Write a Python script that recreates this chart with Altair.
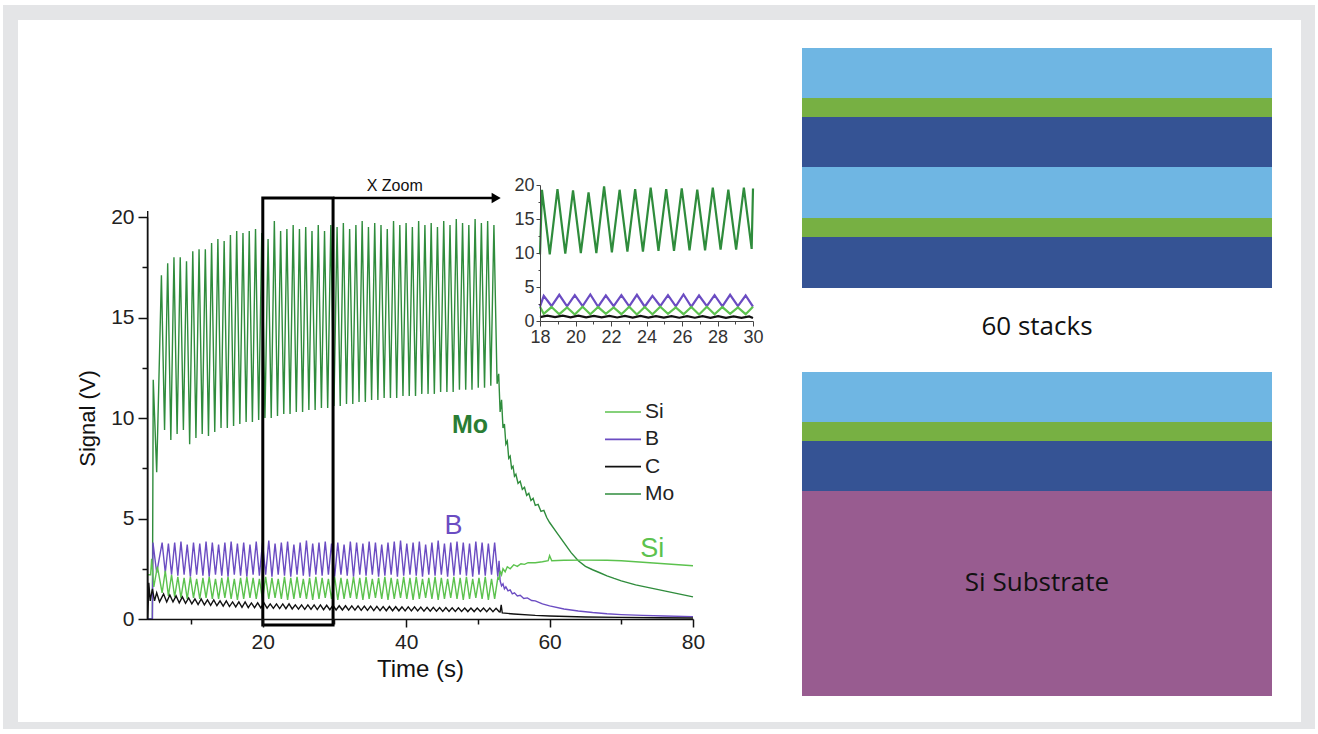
import altair as alt
import pandas as pd

# ---------------- data ----------------
series_names = ["Si", "B", "C", "Mo"]
series_colors = ["#5cc24e", "#6b4cc2", "#111111", "#2f8c3c"]
series_widths = [1.4, 1.4, 1.5, 1.5]

cycle_start = 5.86      # s, first full Mo maximum
cycle_period = 0.875    # s, one bilayer

mo_peak = [17.1, 17.7, 18.0, 18.0, 17.8, 18.3, 18.4, 18.4, 18.7,
           18.9, 18.8, 19.1, 19.3, 19.2, 19.3, 19.4, 19.2, 18.9,
           19.8, 19.3, 19.4, 19.6, 19.4, 19.5, 19.3, 19.6, 19.3,
           19.6, 19.5, 19.7, 19.4, 19.6, 19.8, 19.5, 19.7, 19.6,
           19.4, 19.8, 19.6, 19.7, 19.5, 19.8, 19.6, 19.7, 19.5,
           19.8, 19.6, 19.9, 19.7, 19.6, 19.9, 19.7, 19.8, 19.6]
mo_trough = [9.4, 8.9, 9.2, 9.4, 8.7, 9.0, 9.2, 9.1, 9.3,
             9.5, 9.5, 9.6, 9.7, 9.8, 9.8, 9.9, 10.0, 10.0,
             10.1, 10.2, 10.2, 10.3, 10.3, 10.4, 10.4, 10.5, 10.5,
             10.6, 10.6, 10.7, 10.7, 10.8, 10.8, 10.9, 10.9, 11.0,
             11.0, 11.0, 11.1, 11.1, 11.1, 11.2, 11.2, 11.2, 11.3,
             11.3, 11.3, 11.4, 11.4, 11.4, 11.5, 11.5, 11.6, 11.7]
b_peak = [3.8, 3.75, 3.8, 3.85, 3.7, 3.8, 3.75, 3.85, 3.8,
          3.7, 3.8, 3.85, 3.75, 3.8, 3.7, 3.85, 3.8, 3.9,
          3.75, 3.8, 3.85, 3.7, 3.8, 3.9, 3.75, 3.8, 3.85,
          3.75, 3.8, 3.7, 3.85, 3.8, 3.75, 3.85, 3.8, 3.7,
          3.8, 3.85, 3.9, 3.75, 3.8, 3.85, 3.7, 3.8, 3.9,
          3.75, 3.8, 3.85, 3.8, 3.75, 3.85, 3.8, 3.75, 3.8]
b_trough = [2.3, 2.2, 2.15, 2.2, 2.1, 2.2, 2.15, 2.1, 2.2,
            2.15, 2.1, 2.2, 2.15, 2.1, 2.2, 2.15, 2.2, 2.1,
            2.2, 2.15, 2.1, 2.2, 2.15, 2.1, 2.2, 2.15, 2.2,
            2.1, 2.2, 2.15, 2.1, 2.2, 2.15, 2.2, 2.1, 2.15,
            2.2, 2.1, 2.15, 2.2, 2.15, 2.1, 2.2, 2.15, 2.2,
            2.1, 2.15, 2.2, 2.15, 2.1, 2.2, 2.15, 2.2, 2.1]
si_peak = [2.4, 2.2, 2.1, 2.05, 2.1, 2.0, 2.05, 2.1, 2.0,
           2.05, 2.1, 2.0, 2.05, 2.1, 2.05, 2.0, 2.1, 2.05,
           2.0, 2.1, 2.05, 2.1, 2.0, 2.05, 2.1, 2.05, 2.0,
           2.1, 2.05, 2.0, 2.1, 2.05, 2.1, 2.0, 2.05, 2.1,
           2.05, 2.0, 2.1, 2.05, 2.1, 2.0, 2.05, 2.1, 2.05,
           2.0, 2.1, 2.05, 2.1, 2.0, 2.05, 2.1, 2.0, 2.05]
si_trough = [1.3, 1.15, 1.1, 1.05, 1.0, 1.05, 1.0, 1.05, 1.0,
             1.0, 1.05, 1.0, 0.95, 1.0, 1.05, 1.0, 0.95, 1.0,
             1.05, 1.0, 0.95, 1.0, 1.05, 1.0, 0.95, 1.0, 1.05,
             1.0, 0.95, 1.0, 1.05, 1.0, 0.95, 1.0, 1.05, 1.0,
             0.95, 1.0, 1.05, 1.0, 0.95, 1.0, 1.05, 1.0, 0.95,
             1.0, 1.05, 1.0, 0.95, 1.0, 1.05, 1.0, 0.95, 1.0]
c_peak = [1.25, 1.2, 1.15, 1.1, 1.05, 1.0, 1.0, 0.95, 0.95,
          0.9, 0.9, 0.85, 0.85, 0.85, 0.8, 0.8, 0.8, 0.75,
          0.75, 0.75, 0.75, 0.7, 0.7, 0.7, 0.7, 0.7, 0.68,
          0.68, 0.66, 0.66, 0.65, 0.65, 0.64, 0.64, 0.63, 0.62,
          0.62, 0.61, 0.6, 0.6, 0.6, 0.59, 0.58, 0.58, 0.57,
          0.57, 0.56, 0.56, 0.55, 0.55, 0.55, 0.54, 0.54, 0.53]
c_trough = [0.85, 0.85, 0.8, 0.78, 0.75, 0.72, 0.7, 0.68, 0.66,
            0.64, 0.62, 0.6, 0.58, 0.57, 0.56, 0.55, 0.54, 0.53,
            0.52, 0.51, 0.5, 0.49, 0.48, 0.48, 0.47, 0.46, 0.46,
            0.45, 0.45, 0.44, 0.44, 0.43, 0.43, 0.42, 0.42, 0.41,
            0.41, 0.41, 0.4, 0.4, 0.4, 0.39, 0.39, 0.39, 0.38,
            0.38, 0.38, 0.38, 0.37, 0.37, 0.37, 0.36, 0.36, 0.36]

# offset of maximum / minimum inside each cycle (s)
phase = {"Mo": (0.0, 0.44), "B": (0.1, 0.54), "Si": (0.54, 0.1), "C": (0.3, 0.74)}

# start-up transients
mo_start_t = [3.85, 4.6, 4.72, 5.2]
mo_start_v = [0.0, 0.0, 11.9, 7.3]
b_start_t = [3.85, 4.6, 4.68, 5.2]
b_start_v = [0.0, 0.0, 3.8, 2.3]
si_start_t = [3.85, 4.35, 4.5, 4.8, 5.3]
si_start_v = [2.2, 2.2, 3.0, 1.6, 2.6]
c_start_t = [3.85, 3.93, 3.95, 3.97, 4.1, 4.3, 4.6, 4.9, 5.2, 5.6]
c_start_v = [0.0, 0.0, 20.3, 0.0, 1.8, 0.9, 1.5, 0.9, 1.3, 0.85]

# after the last bilayer (substrate reached)
mo_tail_t = [52.9, 53.1, 53.3, 53.5, 53.7, 53.9, 54.1, 54.3, 54.5, 54.7, 54.9, 55.1, 55.3,
             55.6, 55.9, 56.2, 56.5, 56.8, 57.1, 57.4, 57.7, 58.0, 58.4, 58.8, 59.2, 59.6,
             60.0, 61, 62, 63, 64, 65, 66, 67, 68, 69, 70, 72, 74, 76, 78, 80]
mo_tail_v = [12.2, 10.3, 10.9, 9.5, 9.7, 8.7, 8.85, 8.0, 8.1, 7.5, 7.6, 7.1, 7.2,
             6.75, 6.85, 6.45, 6.55, 6.15, 6.25, 5.9, 6.0, 5.65, 5.7, 5.35, 5.4, 5.05,
             4.8, 4.3, 3.8, 3.3, 2.9, 2.62, 2.45, 2.3, 2.15, 2.02, 1.9, 1.7, 1.55, 1.4, 1.25, 1.1]
b_tail_t = [52.95, 53.1, 53.3, 53.5, 53.7, 53.9, 54.2, 54.5, 54.8, 55.1, 55.5, 55.9, 56.4,
            56.9, 57.5, 58.0, 59, 60, 62, 64, 66, 68, 70, 73, 76, 80]
b_tail_v = [2.9, 1.9, 1.65, 1.75, 1.5, 1.6, 1.4, 1.45, 1.25, 1.3, 1.15, 1.18, 1.02,
            1.05, 0.92, 0.9, 0.75, 0.65, 0.5, 0.4, 0.32, 0.26, 0.22, 0.18, 0.15, 0.12]
si_tail_t = [52.95, 53.1, 53.3, 53.5, 53.8, 54.1, 54.5, 55.0, 55.5, 56.0, 56.5, 57.0, 58,
             59, 59.8, 60.0, 60.3, 62, 65, 68, 70, 72, 74, 76, 78, 80]
si_tail_v = [2.0, 2.4, 2.2, 2.5, 2.35, 2.6, 2.5, 2.7, 2.62, 2.75, 2.72, 2.8, 2.8,
             2.85, 2.9, 3.15, 2.9, 2.92, 2.93, 2.92, 2.9, 2.85, 2.8, 2.75, 2.7, 2.65]
c_tail_t = [53.1, 53.25, 53.4, 55, 58, 60, 65, 70, 75, 80]
c_tail_v = [0.35, 0.7, 0.3, 0.25, 0.18, 0.15, 0.1, 0.08, 0.06, 0.05]

# zoom window and annotations
zoom_window = [20.0, 29.8]
annot_labels = ["Mo", "B", "Si"]
annot_t = [48.9, 46.6, 74.3]
annot_v = [9.65, 4.65, 3.5]
annot_colors = ["#2a7d34", "#6b4cc2", "#5cc24e"]

# layer stack (right), thickness in drawing units, top to bottom
stack_materials = ["Si", "B4C", "Mo", "Si", "B4C", "Mo", "gap", "Si", "B4C", "Mo", "Substrate"]
stack_thickness = [50, 19, 50, 51, 19, 51, 84, 50, 19, 50, 205]
material_names = ["Si", "B4C", "Mo", "gap", "Substrate"]
material_colors = ["#6fb6e3", "#77b043", "#355394", "#ffffff", "#985c90"]
stack_labels = ["60 stacks", "Si Substrate"]
stack_label_pos = [279, 535]

FONT = "Liberation Sans"

# ---------------- build tables ----------------
def build(name, start_t, start_v, peaks, troughs, tail_t, tail_v):
    rows = list(zip(start_t, start_v))
    po, to = phase[name]
    for k, (p, tr) in enumerate(zip(peaks, troughs)):
        tk = cycle_start + cycle_period * k
        rows += sorted([(tk + po, p), (tk + to, tr)])
    rows += list(zip(tail_t, tail_v))
    return pd.DataFrame({"series": name, "t": [r[0] for r in rows], "v": [r[1] for r in rows]})

main_df = pd.concat([
    build("Mo", mo_start_t, mo_start_v, mo_peak, mo_trough, mo_tail_t, mo_tail_v),
    build("B", b_start_t, b_start_v, b_peak, b_trough, b_tail_t, b_tail_v),
    build("Si", si_start_t, si_start_v, si_peak, si_trough, si_tail_t, si_tail_v),
    build("C", c_start_t, c_start_v, c_peak, c_trough, c_tail_t, c_tail_v),
], ignore_index=True)

def inset_part(g):
    g = g.sort_values("t")
    return pd.concat([g[g.t < 18].tail(1), g[(g.t >= 18) & (g.t <= 30)], g[g.t > 30].head(1)])

inset_df = pd.concat([inset_part(g) for _, g in main_df.groupby("series", sort=False)], ignore_index=True)

stack_df = pd.DataFrame({"material": stack_materials, "thick": stack_thickness})
stack_df["bottom"] = stack_df["thick"].cumsum()
stack_df["top"] = stack_df["bottom"] - stack_df["thick"]

# ---------------- scales ----------------
main_x = alt.Scale(domain=[3.85, 80], range=[147, 693], nice=False, zero=False)
main_y = alt.Scale(domain=[0, 20], range=[619, 217], nice=False, zero=False)
inset_x = alt.Scale(domain=[18, 30], range=[540, 753], nice=False, zero=False, clamp=True)
inset_y = alt.Scale(domain=[0, 20], range=[321, 185], nice=False, zero=False)
stack_y = alt.Scale(domain=[0, sum(stack_thickness)], range=[48, 696], nice=False, zero=False)
color_scale = alt.Scale(domain=series_names, range=series_colors)
width_scale = alt.Scale(domain=series_names, range=series_widths)

one = pd.DataFrame({"a": [0]})

# ---------------- layers ----------------
bg = alt.Chart(one).mark_rect(color="#e4e5e7").encode(
    x=alt.value(3), x2=alt.value(1315), y=alt.value(5), y2=alt.value(729))
panel = alt.Chart(one).mark_rect(color="#ffffff").encode(
    x=alt.value(18), x2=alt.value(1301), y=alt.value(20), y2=alt.value(722))

stack = alt.Chart(stack_df).mark_rect().encode(
    x=alt.value(802), x2=alt.value(1272),
    y=alt.Y("top:Q", scale=stack_y, axis=None), y2="bottom:Q",
    fill=alt.Fill("material:N", scale=alt.Scale(domain=material_names, range=material_colors), legend=None),
)
stack_text = alt.Chart(pd.DataFrame({"label": stack_labels, "pos": stack_label_pos})).mark_text(
    font="Open Sans", fontSize=26, color="#111111", align="center", baseline="middle"
).encode(x=alt.value(1037), y=alt.Y("pos:Q", scale=stack_y, axis=None), text="label:N")

major5 = "datum.value % 5 === 0"
main_lines = alt.Chart(main_df).mark_line().encode(
    x=alt.X("t:Q", scale=main_x, axis=alt.Axis(
        orient="bottom", offset=-115, zindex=2, values=[10, 20, 30, 40, 50, 60, 70, 80],
        labelExpr="datum.value % 20 === 0 ? datum.label : ''",
        tickSize={"condition": {"test": "datum.value % 20 === 0", "value": 8}, "value": 5},
        title="Time (s)", titleFont=FONT, titleFontSize=24, titleFontWeight="normal", titleColor="#111111",
        titlePadding=5, labelFont=FONT, labelFontSize=21, labelColor="#222222", labelPadding=4,
        labelFlush=False, labelOverlap=False, domainColor="#111111", domainWidth=1.5,
        tickColor="#111111", tickWidth=1.5, grid=False)),
    y=alt.Y("v:Q", scale=main_y, axis=alt.Axis(
        orient="left", offset=-147, zindex=2, values=[0, 2.5, 5, 7.5, 10, 12.5, 15, 17.5, 20],
        labelExpr=major5 + " ? datum.label : ''",
        tickSize={"condition": {"test": major5, "value": 9}, "value": 5},
        title="Signal (V)", titleFont=FONT, titleFontSize=22, titleFontWeight="normal", titleColor="#111111",
        titlePadding=11, labelFont=FONT, labelFontSize=21, labelColor="#222222", labelPadding=4,
        labelFlush=False, labelOverlap=False, domainColor="#111111", domainWidth=1.5,
        tickColor="#111111", tickWidth=1.5, grid=False)),
    color=alt.Color("series:N", scale=color_scale, legend=None),
    strokeWidth=alt.StrokeWidth("series:N", scale=width_scale, legend=None),
)

zoom_df = pd.DataFrame({"x0": [zoom_window[0]], "x1": [zoom_window[1]], "y0": [-0.3], "y1": [20.95]})
zoom_box = alt.Chart(zoom_df).mark_rect(fillOpacity=0, stroke="#000000", strokeWidth=3).encode(
    x=alt.X("x0:Q", scale=main_x, axis=None), x2="x1:Q",
    y=alt.Y("y0:Q", scale=main_y, axis=None), y2="y1:Q")
arrow_df = pd.DataFrame({"x0": [zoom_window[1]], "x1": [52.3], "y": [20.95]})
arrow_line = alt.Chart(arrow_df).mark_rule(color="#000000", strokeWidth=2.5).encode(
    x=alt.X("x0:Q", scale=main_x, axis=None), x2="x1:Q", y=alt.Y("y:Q", scale=main_y, axis=None))
arrow_head = alt.Chart(pd.DataFrame({"x": [52.55], "y": [20.95]})).mark_point(
    shape="triangle-right", filled=True, size=110, color="#000000", opacity=1
).encode(x=alt.X("x:Q", scale=main_x, axis=None), y=alt.Y("y:Q", scale=main_y, axis=None))
zoom_text = alt.Chart(pd.DataFrame({"x": [38.4], "y": [21.55], "label": ["X Zoom"]})).mark_text(
    font=FONT, fontSize=16, color="#111111", align="center", baseline="middle"
).encode(x=alt.X("x:Q", scale=main_x, axis=None), y=alt.Y("y:Q", scale=main_y, axis=None), text="label:N")

annot_df = pd.DataFrame({"label": annot_labels, "t": annot_t, "v": annot_v, "c": annot_colors})
annot_bold = alt.Chart(annot_df[annot_df.label == "Mo"]).mark_text(
    font=FONT, fontSize=25, fontWeight="bold", align="center", baseline="middle"
).encode(x=alt.X("t:Q", scale=main_x, axis=None), y=alt.Y("v:Q", scale=main_y, axis=None),
         text="label:N", color=alt.Color("c:N", scale=None))
annot_norm = alt.Chart(annot_df[annot_df.label != "Mo"]).mark_text(
    font=FONT, fontSize=27, align="center", baseline="middle"
).encode(x=alt.X("t:Q", scale=main_x, axis=None), y=alt.Y("v:Q", scale=main_y, axis=None),
         text="label:N", color=alt.Color("c:N", scale=None))

legend_df = pd.DataFrame({"series": series_names})
legend_y = alt.Scale(type="point", domain=series_names, range=[412, 494], padding=0)
legend_rules = alt.Chart(legend_df).mark_rule(strokeWidth=1.6).encode(
    x=alt.value(605), x2=alt.value(641), y=alt.Y("series:N", scale=legend_y, axis=None),
    color=alt.Color("series:N", scale=color_scale, legend=None))
legend_text = alt.Chart(legend_df).mark_text(
    font=FONT, fontSize=21, color="#222222", align="left", baseline="middle"
).encode(x=alt.value(645), y=alt.Y("series:N", scale=legend_y, axis=None), text="series:N")

inset_lines = alt.Chart(inset_df).mark_line().encode(
    x=alt.X("t:Q", scale=inset_x, axis=alt.Axis(
        orient="bottom", offset=-413, zindex=2, values=list(range(18, 31)),
        labelExpr="datum.value % 2 === 0 ? datum.label : ''",
        tickSize={"condition": {"test": "datum.value % 2 === 0", "value": 5}, "value": 3},
        title=None, labelFont=FONT, labelFontSize=18, labelColor="#333333", labelPadding=2,
        labelFlush=False, labelOverlap=False, domainColor="#444444", domainWidth=1,
        tickColor="#444444", tickWidth=1, grid=False)),
    y=alt.Y("v:Q", scale=inset_y, axis=alt.Axis(
        orient="left", offset=-540, zindex=2, values=[0, 2.5, 5, 7.5, 10, 12.5, 15, 17.5, 20],
        labelExpr=major5 + " ? datum.label : ''",
        tickSize={"condition": {"test": major5, "value": 4}, "value": 2},
        title=None, labelFont=FONT, labelFontSize=18, labelColor="#333333", labelPadding=2,
        labelFlush=False, labelOverlap=False, domainColor="#444444", domainWidth=1,
        tickColor="#444444", tickWidth=1, grid=False)),
    color=alt.Color("series:N", scale=color_scale, legend=None),
    strokeWidth=alt.value(2.2),
)

chart = alt.layer(
    bg, panel, stack, stack_text, main_lines, zoom_box, arrow_line, arrow_head, zoom_text,
    annot_bold, annot_norm, legend_rules, legend_text, inset_lines
).resolve_scale(
    x="independent", y="independent", color="independent", fill="independent", strokeWidth="independent"
).properties(
    width=1318, height=734, autosize=alt.AutoSizeParams(type="none"), padding=0, background="#ffffff"
).configure_view(stroke=None)

chart.save("out.html", embed_options={"renderer": "svg", "actions": False})
